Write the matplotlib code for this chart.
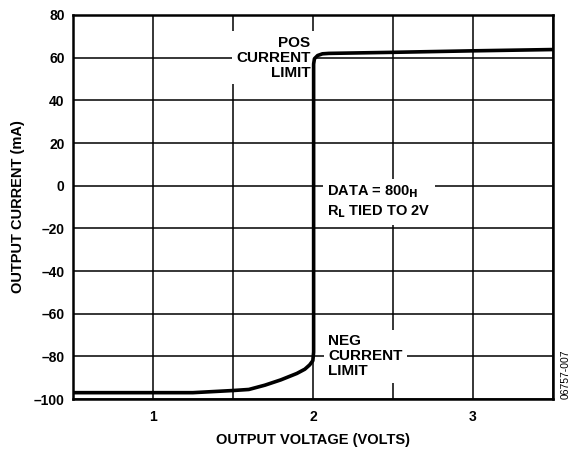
import matplotlib.pyplot as plt

plt.rcParams['font.family'] = ['Liberation Sans', 'DejaVu Sans']
plt.rcParams['font.weight'] = 'bold'
plt.rcParams['axes.labelweight'] = 'bold'

# curve
volts = [0.5, 1.0, 1.25, 1.5, 1.6, 1.7, 1.8, 1.9, 1.95, 1.98, 2.0, 2.005,
         2.005, 2.01, 2.03, 2.06, 2.1, 2.5, 3.0, 3.5]
current = [-97, -97, -97, -96, -95.5, -93.5, -91, -88, -86, -84, -82, -78,
           57, 59.5, 61, 61.8, 62, 62.5, 63.2, 63.8]

x_ticks = [1, 2, 3]
y_ticks = [80, 60, 40, 20, 0, -20, -40, -60, -80, -100]

fig = plt.figure(figsize=(5.74, 4.54), dpi=100)
ax = fig.add_axes([0.127, 0.121, 0.836, 0.846])

ax.set_xlim(0.5, 3.5)
ax.set_ylim(-100, 80)
ax.set_xticks([0.5, 1, 1.5, 2, 2.5, 3, 3.5])
ax.set_xticklabels(['' if v not in x_ticks else str(v)
                    for v in [0.5, 1, 1.5, 2, 2.5, 3, 3.5]])
ax.set_yticks(y_ticks)
ax.set_yticklabels([str(v).replace('-', '\u2013') for v in y_ticks])
ax.tick_params(length=0, labelsize=10)
ax.tick_params(axis='x', pad=8)
ax.tick_params(axis='y', pad=6)
ax.grid(True, color='black', linewidth=1.1)
ax.set_axisbelow(True)
for s in ax.spines.values():
    s.set_linewidth(1.8)

ax.plot(volts, current, color='black', linewidth=2.6, zorder=3)

box = dict(facecolor='white', edgecolor='none', pad=3)
ax.text(1.985, 60, 'POS\nCURRENT\nLIMIT', ha='right', va='center',
        fontsize=11, linespacing=1.1, bbox=box, zorder=2)
ax.text(2.095, -80, 'NEG\nCURRENT\nLIMIT', ha='left', va='center',
        fontsize=11, linespacing=1.1, bbox=box, zorder=2)
ax.text(2.09, -7.5, 'DATA = 800$_{\\mathbf{H}}$\nR$_{\\mathbf{L}}$ TIED TO 2V', ha='left',
        va='center', fontsize=10.5, linespacing=1.35, bbox=box, zorder=2)

ax.set_xlabel('OUTPUT VOLTAGE (VOLTS)', fontsize=10.5, labelpad=6)
ax.set_ylabel('OUTPUT CURRENT (mA)', fontsize=10.5, labelpad=6)

fig.text(0.985, 0.175, '06757-007', rotation=90, fontsize=7.5,
         fontweight='normal', ha='center', va='center')

fig.savefig('out.png', dpi=100)
